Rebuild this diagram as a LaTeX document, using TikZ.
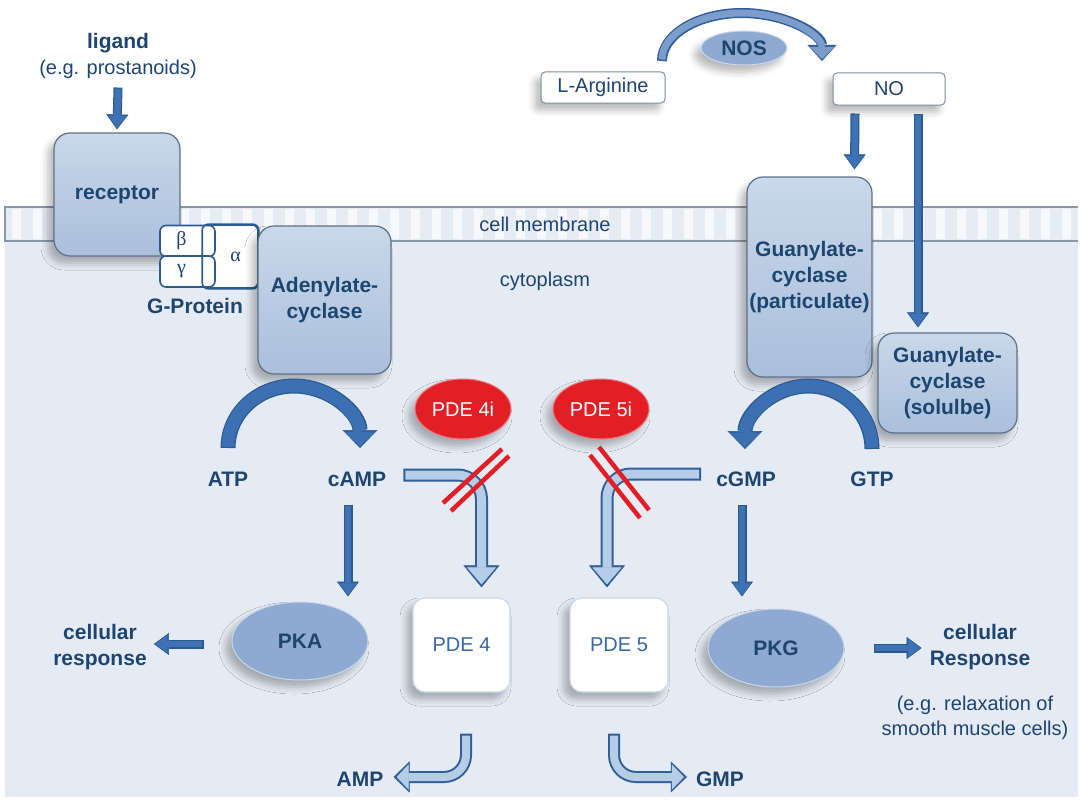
\documentclass[tikz,border=0pt]{standalone}
\usepackage{fontspec}
\setmainfont{Liberation Sans}
\newfontfamily\greekfont{Liberation Serif}
\usetikzlibrary{arrows.meta,shapes.geometric,shadows.blur}
\definecolor{navy}{HTML}{1E4570}
\definecolor{cytobg}{HTML}{E4EBF4}
\definecolor{membfill}{HTML}{E6ECF4}
\definecolor{membline}{HTML}{8C97A5}
\definecolor{boxtop}{HTML}{C9D8EA}
\definecolor{boxbot}{HTML}{A9BFDB}
\definecolor{boxline}{HTML}{5E7188}
\definecolor{arrblue}{HTML}{3E72B4}
\definecolor{arredge}{HTML}{2B5A92}
\definecolor{arcblue}{HTML}{3C70B2}
\definecolor{hollowfill}{HTML}{B5CDE6}
\definecolor{hollowedge}{HTML}{2F5E98}
\definecolor{nosfill}{HTML}{7C9DCB}
\definecolor{gline}{HTML}{2D5B8F}
\definecolor{ellfill}{HTML}{8EAAD3}
\definecolor{ellline}{HTML}{C9D7EA}
\definecolor{pdered}{HTML}{E21F26}
\definecolor{pdetext}{HTML}{3767A5}
\tikzset{
  boldtxt/.style={font=\bfseries\fontsize{21}{26}\selectfont, text=navy, align=center, inner sep=1pt},
  thintxt/.style={font=\fontsize{20}{25}\selectfont, text=navy, align=center, inner sep=1pt},
  soft/.style={blur shadow={shadow xshift=-6pt, shadow yshift=-7pt, shadow blur radius=7pt, shadow opacity=28}},
  enzyme/.style={boldtxt, soft, draw=boxline, line width=1.2pt, rounded corners=16pt, top color=boxtop, bottom color=boxbot},
  gsub/.style={draw=gline, line width=1.6pt, fill=white, rounded corners=6pt, text=navy, font=\greekfont\fontsize{20}{24}\selectfont},
  smallbox/.style={thintxt, soft, draw=boxline!80, line width=1pt, fill=white, rounded corners=4pt},
  pdebox/.style={thintxt, soft, text=pdetext, draw=ellline, line width=1.2pt, fill=white, rounded corners=12pt},
  blueell/.style={boldtxt, soft, ellipse, draw=ellline, line width=1pt, fill=ellfill},
  redell/.style={thintxt, soft, ellipse, text=white, draw=pdered!60, line width=1pt, fill=pdered},
  redbar/.style={draw=pdered, line width=4.5pt},
  solidarr/.style={draw=arredge, line width=9pt,
    -{Triangle[width=22pt,length=15pt,line width=0.5pt]},
    postaction={draw=arrblue, line width=6.5pt, shorten >=1.5pt, shorten <=1.2pt,
      -{Triangle[width=18pt,length=12pt,line width=0.5pt]}}},
  bigarc/.style={draw=arredge, line width=15pt,
    -{Triangle[width=35pt,length=18pt,line width=0.5pt]},
    postaction={draw=arcblue, line width=12.5pt, shorten >=1.5pt, shorten <=1.2pt,
      -{Triangle[width=31pt,length=15pt,line width=0.5pt]}}},
  hollowarr/.style={draw=hollowedge, line width=13pt, rounded corners=24pt,
    -{Triangle[width=36pt,length=22pt,line width=0.5pt]},
    postaction={draw=hollowfill, line width=9pt, shorten >=3pt, shorten <=2pt,
      -{Triangle[width=29pt,length=17pt,line width=0.5pt]}}},
  hollowsmall/.style={draw=hollowedge, line width=12pt, rounded corners=22pt,
    -{Triangle[width=31pt,length=16pt,line width=0.5pt]},
    postaction={draw=hollowfill, line width=8pt, shorten >=3pt, shorten <=2pt,
      -{Triangle[width=25pt,length=12pt,line width=0.5pt]}}},
  nosarc/.style={draw=hollowedge, line width=10pt,
    -{Triangle[width=29pt,length=16pt,line width=0.5pt]},
    postaction={draw=nosfill, line width=7pt, shorten >=2pt, shorten <=1.5pt,
      -{Triangle[width=24pt,length=12pt,line width=0.5pt]}}}
}
\begin{document}
\begin{tikzpicture}[x=1pt,y=-1pt]
\useasboundingbox (0,0) rectangle (1084,800);
% cytoplasm and membrane
\fill[cytobg] (5,241) rectangle (1078,797);
\fill[membfill] (5,207) rectangle (1078,241);
\foreach \x in {12,33,...,1070} \fill[white,opacity=0.65] (\x,209) rectangle ++(9,30);
\draw[membline,line width=1.2pt] (1078,207) -- (5,207) -- (5,241) -- (1078,241);
\node[thintxt] (memb) at (545,224) {cell membrane};
\node[thintxt] (cyto) at (545,281) {cytoplasm};

\node[boldtxt] (lig) at (118,43) {ligand};
\node[thintxt] (ligex) at (118,69) {(e.g. prostanoids)};
\node[enzyme, minimum width=126pt, minimum height=123pt] (rec) at (117,194.5) {receptor};
\draw[solidarr] ([yshift=-8pt]ligex.south) -- ([yshift=3pt]rec.north);

\node[gsub, minimum width=55pt, minimum height=63pt] (alpha) at (230.5,256.5) {\hspace{10pt}α};
\node[gsub, minimum width=55pt, minimum height=31pt] (beta) at (187.5,241) {\hspace{-12pt}β};
\node[gsub, minimum width=55pt, minimum height=31pt] (gamma) at (187.5,271.5) {\hspace{-12pt}γ};
\draw[gline, line width=1.6pt, rounded corners=6pt] (alpha.north west) rectangle (alpha.south east);
\node[boldtxt] (gprot) at (195,306) {G-Protein};
\node[enzyme, minimum width=133pt, minimum height=148pt] (ac) at (324.5,300) {Adenylate-\\cyclase};

\node[smallbox, minimum width=124pt, minimum height=31pt] (larg) at (603,87.5) {L-Arginine};
\node[smallbox, minimum width=112pt, minimum height=32pt] (no) at (889,89) {NO};
\node[blueell, minimum width=86pt, minimum height=34pt] (nos) at (744,48) {NOS};
\coordinate (argfoot) at (662,61);
\draw[nosarc] (argfoot) arc[start angle=180, end angle=360, x radius=80, y radius=48];

\node[enzyme, minimum width=125pt, minimum height=200pt] (gcp) at (809.5,277) {Guanylate-\\cyclase\\(particulate)};
\node[enzyme, minimum width=139pt, minimum height=100pt] (gcs) at (947.5,383) {Guanylate-\\cyclase\\(solulbe)};
\draw[solidarr] ([xshift=-34pt,yshift=-8pt]no.south) -- ([xshift=45pt,yshift=7pt]gcp.north);
\draw[solidarr] ([xshift=29pt,yshift=-8pt]no.south) -- ([xshift=-29.5pt,yshift=5pt]gcs.north);

\node[boldtxt] (atp) at (228,479) {ATP};
\node[boldtxt] (camp) at (357,479) {cAMP};
\node[boldtxt] (cgmp) at (746,479) {cGMP};
\node[boldtxt] (gtp) at (872,479) {GTP};
\coordinate (atpfoot) at (228,448);
\coordinate (gtpfoot) at (872,449);
\draw[bigarc] (atpfoot) arc[start angle=180, end angle=360, x radius=66, y radius=62];
\draw[bigarc] (gtpfoot) arc[start angle=360, end angle=180, x radius=63.5, y radius=63];

\node[redell, minimum width=96pt, minimum height=60pt] (pde4i) at (463,409) {PDE 4i};
\node[redell, minimum width=96pt, minimum height=60pt] (pde5i) at (601,409) {PDE 5i};

\node[blueell, minimum width=136pt, minimum height=78pt] (pka) at (300,641) {PKA};
\node[blueell, minimum width=136pt, minimum height=78pt] (pkg) at (776,648) {PKG};
\node[pdebox, minimum width=97pt, minimum height=94pt] (pde4) at (461.5,645) {PDE 4};
\node[pdebox, minimum width=98pt, minimum height=94pt] (pde5) at (619,645) {PDE 5};

\draw[hollowarr] ([xshift=16pt,yshift=4pt]camp.east) -| ([xshift=20pt,yshift=10pt]pde4.north);
\draw[hollowarr] ([xshift=-14pt,yshift=5pt]cgmp.west) -| ([xshift=-12pt,yshift=10pt]pde5.north);
\draw[redbar] (443,503) -- (502,449);
\draw[redbar] (451,511) -- (509,456);
\draw[redbar] (590,455) -- (640,518);
\draw[redbar] (599,447) -- (649,510);

\draw[solidarr] ([xshift=-9pt,yshift=-17pt]camp.south) -- ([xshift=48pt,yshift=5pt]pka.north);
\draw[solidarr] ([xshift=-4pt,yshift=-17pt]cgmp.south) -- ([xshift=-34pt,yshift=12pt]pkg.north);

\node[boldtxt] (respl) at (100,647) {cellular\\response};
\node[boldtxt] (respr) at (980,647) {cellular\\Response};
\node[thintxt] (relax) at (975,718) {(e.g. relaxation of\\smooth muscle cells)};
\draw[solidarr] ([xshift=-28pt,yshift=-3pt]pka.west) -- ([xshift=6pt,yshift=3pt]respl.east);
\draw[solidarr] ([xshift=29pt]pkg.east) -- ([xshift=-7pt,yshift=-1pt]respr.west);

\node[boldtxt] (amp) at (360,779) {AMP};
\node[boldtxt] (gmp) at (720,779) {GMP};
\draw[hollowsmall] ([xshift=4.5pt,yshift=-41pt]pde4.south) |- ([xshift=9pt,yshift=2pt]amp.east);
\draw[hollowsmall] ([xshift=-5pt,yshift=-41pt]pde5.south) |- ([xshift=-8pt,yshift=2pt]gmp.west);
\end{tikzpicture}
\end{document}
